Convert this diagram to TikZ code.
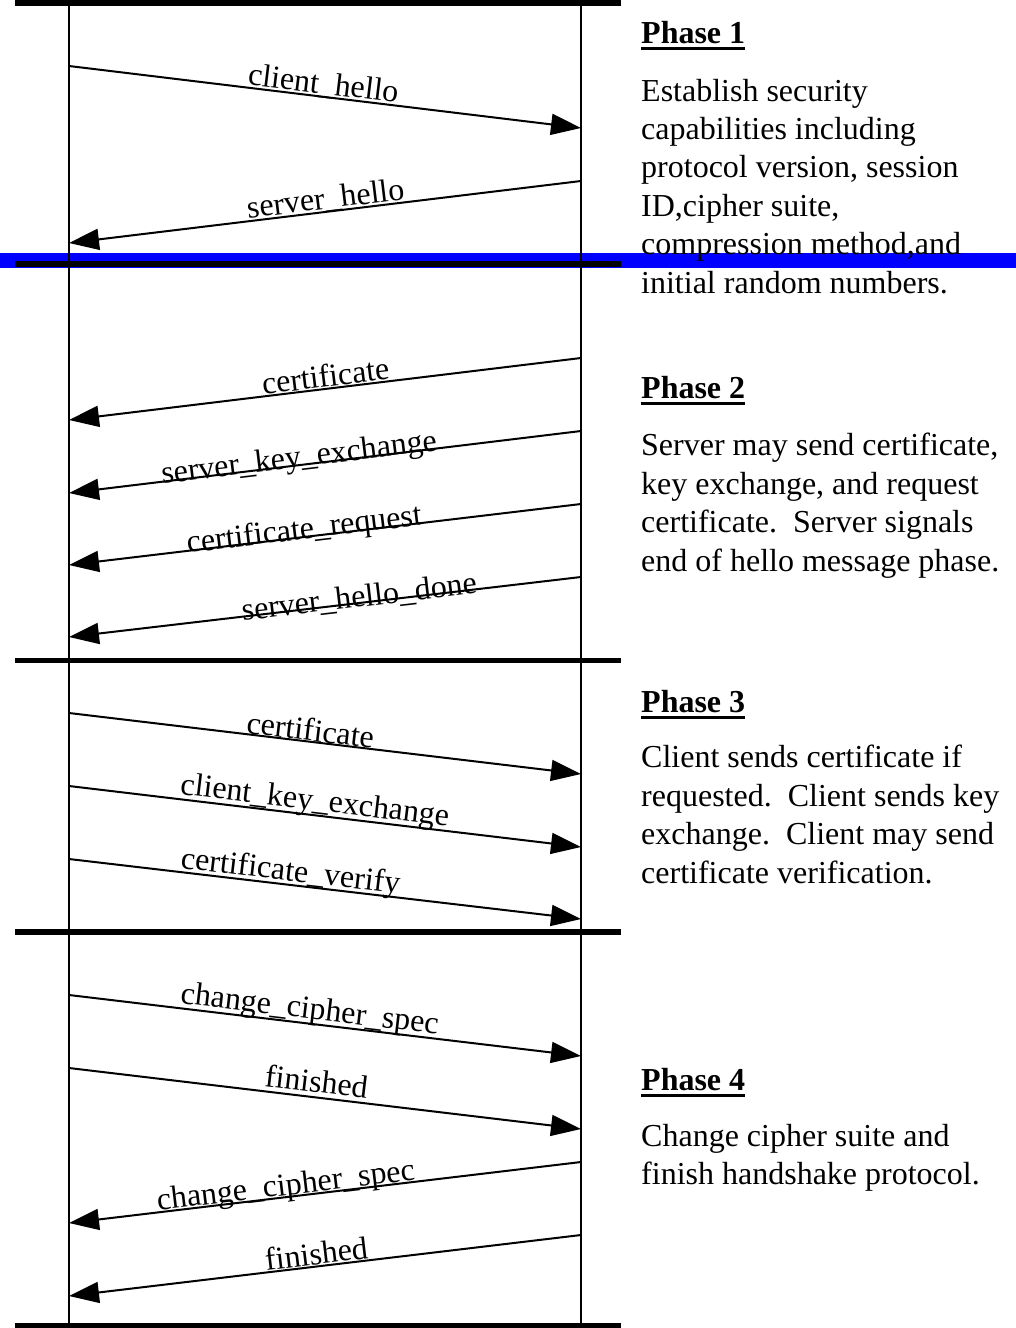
\documentclass[tikz,border=0pt]{standalone}
\usepackage{fontspec}
\setmainfont{Liberation Serif}
\usetikzlibrary{arrows.meta}
\begin{document}
\begin{tikzpicture}[x=1pt,y=-1pt,
  lifeline/.style={line width=2pt},
  phasebar/.style={line width=5.5pt},
  msg/.style={line width=2pt,-{Triangle[length=30pt,width=21pt]}},
  lbl/.style={sloped,anchor=base,inner sep=0pt,font=\fontsize{32}{38.4}\selectfont},
  head/.style={anchor=base west,inner sep=0pt,font=\fontsize{32}{38.4}\selectfont\bfseries},
  body/.style={anchor=base west,inner sep=0pt,align=left,font=\fontsize{32}{38.4}\selectfont},
  uline/.style={line width=3pt}
]
\useasboundingbox (0,0) rectangle (1016,1328);

% highlight band across the end of phase 1
\fill[blue] (0,252.5) rectangle (1016,268);

% client and server lifelines
\coordinate (ctop) at (69,0);    \coordinate (cbot) at (69,1328);
\coordinate (stop) at (581,0);   \coordinate (sbot) at (581,1328);
\draw[lifeline] (ctop) -- (cbot);
\draw[lifeline] (stop) -- (sbot);

% phase separators
\foreach \y in {3,264,660.5,932,1325.5}
  \draw[phasebar] (15,\y) -- (621,\y);

% message end points
\coordinate (c1) at (69,66);    \coordinate (s1) at (581,128);
\coordinate (s2) at (581,181);  \coordinate (c2) at (69,243);
\coordinate (s3) at (581,358);  \coordinate (c3) at (69,420);
\coordinate (s4) at (581,431);  \coordinate (c4) at (69,493);
\coordinate (s5) at (581,504);  \coordinate (c5) at (69,565);
\coordinate (s6) at (581,577);  \coordinate (c6) at (69,637);
\coordinate (c7) at (69,713);   \coordinate (s7) at (581,774);
\coordinate (c8) at (69,786);   \coordinate (s8) at (581,847);
\coordinate (c9) at (69,859);   \coordinate (s9) at (581,919);
\coordinate (c10) at (69,995);  \coordinate (s10) at (581,1056);
\coordinate (c11) at (69,1068); \coordinate (s11) at (581,1129);
\coordinate (s12) at (581,1162);\coordinate (c12) at (69,1223);
\coordinate (s13) at (581,1235);\coordinate (c13) at (69,1296);

% phase 1
\draw[msg] (c1) -- node[lbl,pos=0.494,yshift=3pt] (m1) {client\_hello} (s1);
\draw[msg] (s2) -- node[lbl,pos=0.496,yshift=3pt] (m2) {server\_hello} (c2);
% phase 2
\draw[msg] (s3) -- node[lbl,pos=0.496,yshift=2pt] (m3) {certificate} (c3);
\draw[msg] (s4) -- node[lbl,pos=0.549,yshift=-2pt] (m4) {server\_key\_exchange} (c4);
\draw[msg] (s5) -- node[lbl,pos=0.539,yshift=-2pt] (m5) {certificate\_request} (c5);
\draw[msg] (s6) -- node[lbl,pos=0.432,yshift=-4pt] (m6) {server\_hello\_done} (c6);
% phase 3
\draw[msg] (c7) -- node[lbl,pos=0.469,yshift=1pt] (m7) {certificate} (s7);
\draw[msg] (c8) -- node[lbl,pos=0.477,yshift=5pt] (m8) {client\_key\_exchange} (s8);
\draw[msg] (c9) -- node[lbl,pos=0.430,yshift=4pt] (m9) {certificate\_verify} (s9);
% phase 4
\draw[msg] (c10) -- node[lbl,pos=0.467,yshift=5pt] (m10) {change\_cipher\_spec} (s10);
\draw[msg] (c11) -- node[lbl,pos=0.480,yshift=5pt] (m11) {finished} (s11);
\draw[msg] (s12) -- node[lbl,pos=0.574,yshift=2pt] (m12) {change\_cipher\_spec} (c12);
\draw[msg] (s13) -- node[lbl,pos=0.514,yshift=2pt] (m13) {finished} (c13);

% phase descriptions (body nodes are placed by the baseline of their last line)
\node[head] (h1) at (641,43) {Phase 1};
\draw[uline] ([yshift=-5pt]h1.base west) -- ([yshift=-5pt]h1.base east);
\node[body] (t1) at (641,293) {Establish security\\capabilities including\\protocol version, session\\ID,cipher suite,\\compression method,and\\initial random numbers.};

\node[head] (h2) at (641,398) {Phase 2};
\draw[uline] ([yshift=-5pt]h2.base west) -- ([yshift=-5pt]h2.base east);
\node[body] (t2) at (641,571) {Server may send certificate,\\key exchange, and request\\certificate.\ \ Server signals\\end of hello message phase.};

\node[head] (h3) at (641,712) {Phase 3};
\draw[uline] ([yshift=-5pt]h3.base west) -- ([yshift=-5pt]h3.base east);
\node[body] (t3) at (641,883) {Client sends certificate if\\requested.\ \ Client sends key\\exchange.\ \ Client may send\\certificate verification.};

\node[head] (h4) at (641,1090) {Phase 4};
\draw[uline] ([yshift=-5pt]h4.base west) -- ([yshift=-5pt]h4.base east);
\node[body] (t4) at (641,1184.4) {Change cipher suite and\\finish handshake protocol.};
\end{tikzpicture}
\end{document}
